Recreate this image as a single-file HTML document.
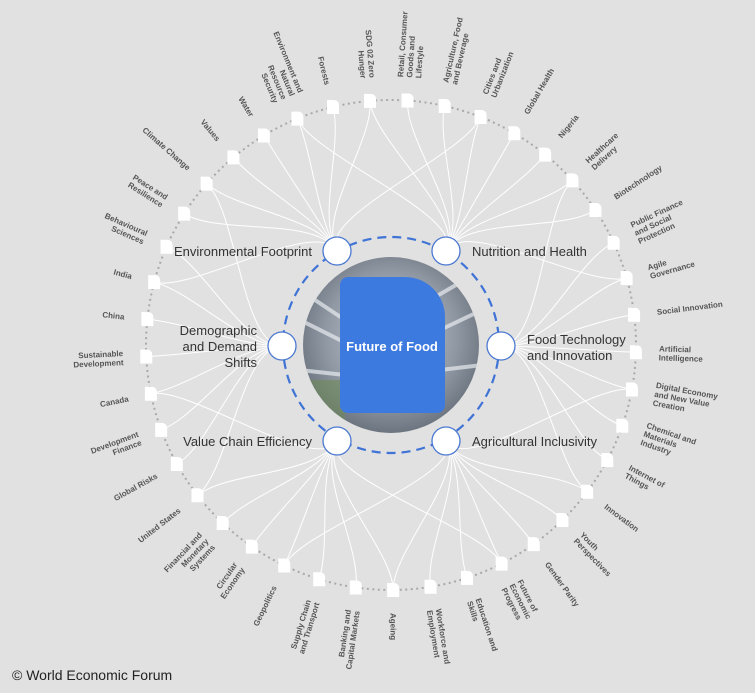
<!DOCTYPE html>
<html><head><meta charset="utf-8"><style>
html,body{margin:0;padding:0;background:#e1e1e1;}
body{width:755px;height:693px;overflow:hidden;position:relative;font-family:"Liberation Sans",sans-serif;}
#foot{position:absolute;left:12px;top:667px;font-size:14px;color:#222;}
</style></head><body>
<svg id="s" width="755" height="693" xmlns="http://www.w3.org/2000/svg" style="position:absolute;left:0;top:0">
<defs>
<radialGradient id="g" cx="50%" cy="45%" r="60%">
<stop offset="0" stop-color="#c8ced6"/><stop offset="0.6" stop-color="#8f98a3"/><stop offset="1" stop-color="#5d6670"/>
</radialGradient>
<clipPath id="cc"><circle cx="391" cy="345" r="88"/></clipPath>
</defs>
<circle cx="391" cy="345" r="245" fill="none" stroke="#a9a9a9" stroke-width="2" stroke-dasharray="2 3.5"/>
<g id="lines" fill="none" stroke="#fff" stroke-width="1"></g>
<circle cx="391" cy="345" r="108" fill="none" stroke="#3f73d6" stroke-width="2.2" stroke-dasharray="9 6"/>
<g clip-path="url(#cc)">
<rect x="300" y="255" width="182" height="182" fill="url(#g)"/>
<g stroke="#e8ecf0" stroke-width="4" opacity="0.7">
<line x1="300" y1="290" x2="360" y2="330"/><line x1="300" y1="320" x2="350" y2="345"/>
<line x1="430" y1="300" x2="482" y2="270"/><line x1="440" y1="330" x2="482" y2="310"/>
<line x1="440" y1="370" x2="482" y2="365"/><line x1="300" y1="370" x2="345" y2="375"/>
</g>
<rect x="300" y="380" width="45" height="40" fill="#6f8a5a" opacity="0.6"/>
</g>
<path d="M348,277 H405 A40,40 0 0 1 445,317 V405 A8,8 0 0 1 437,413 H348 A8,8 0 0 1 340,405 V285 A8,8 0 0 1 348,277 Z" fill="#3d7ae0"/>
<text x="392" y="351" font-size="13" font-weight="bold" fill="#fff" text-anchor="middle" font-family="Liberation Sans, sans-serif">Future of Food</text>
<g id="nodes"></g>
<g id="labels" font-family="Liberation Sans, sans-serif" font-size="8" font-weight="bold" fill="#555"></g>
<g font-family="Liberation Sans, sans-serif" font-size="13" fill="#333">
<text x="312" y="256" text-anchor="end">Environmental Footprint</text>
<text x="472" y="256">Nutrition and Health</text>
<text x="527" y="344">Food Technology</text>
<text x="527" y="360">and Innovation</text>
<text x="472" y="446">Agricultural Inclusivity</text>
<text x="312" y="446" text-anchor="end">Value Chain Efficiency</text>
<text x="257" y="335" text-anchor="end">Demographic</text>
<text x="257" y="351" text-anchor="end">and Demand</text>
<text x="257" y="367" text-anchor="end">Shifts</text>
</g>
<g fill="#fff" stroke="#4a78d0" stroke-width="1.3">
<circle cx="337" cy="251" r="14"/><circle cx="446" cy="251" r="14"/><circle cx="501" cy="346" r="14"/>
<circle cx="446" cy="441" r="14"/><circle cx="337" cy="441" r="14"/><circle cx="282" cy="346" r="14"/>
</g>
</svg>
<div id="foot">© World Economic Forum</div>
<script>
var L=[["SDG 02 Zero","Hunger"],["Retail, Consumer","Goods and","Lifestyle"],["Agriculture, Food","and Beverage"],["Cities and","Urbanization"],["Global Health"],["Nigeria"],["Healthcare","Delivery"],["Biotechnology"],["Public Finance","and Social","Protection"],["Agile","Governance"],["Social Innovation"],["Artificial","Intelligence"],["Digital Economy","and New Value","Creation"],["Chemical and","Materials","Industry"],["Internet of","Things"],["Innovation"],["Youth","Perspectives"],["Gender Parity"],["Future of","Economic","Progress"],["Education and","Skills"],["Workforce and","Employment"],["Ageing"],["Banking and","Capital Markets"],["Supply Chain","and Transport"],["Geopolitics"],["Circular","Economy"],["Financial and","Monetary","Systems"],["United States"],["Global Risks"],["Development","Finance"],["Canada"],["Sustainable","Development"],["China"],["India"],["Behavioural","Sciences"],["Peace and","Resilience"],["Climate Change"],["Values"],["Water"],["Environment and","Natural","Resource","Security"],["Forests"]];
var NS="http://www.w3.org/2000/svg",cx=391,cy=345,R=245;
var inner=[[-120,337,251],[-60,446,251],[0,501,346],[60,446,441],[120,337,441],[180,282,346]];
function el(t,a,p){var e=document.createElementNS(NS,t);for(var k in a)e.setAttribute(k,a[k]);p.appendChild(e);return e;}
var gl=document.getElementById("lines"),gn=document.getElementById("nodes"),gt=document.getElementById("labels");
function nd(a,b){var d=Math.abs(a-b)%360;return d>180?360-d:d;}
for(var i=0;i<L.length;i++){
 var ang=-94.9+i*360/41,r=ang*Math.PI/180,c=Math.cos(r),s=Math.sin(r);
 var x=cx+R*c,y=cy+R*s;
 var sorted=inner.slice().sort(function(p,q){return nd(ang,p[0])-nd(ang,q[0]);});
 var tg=[sorted[0]];if(i%3==0)tg.push(sorted[1]);
 tg.forEach(function(n){var ir=n[0]*Math.PI/180;
  el("path",{d:"M"+n[1]+","+n[2]+" C"+(n[1]+40*Math.cos(ir))+","+(n[2]+40*Math.sin(ir))+" "+(x-40*c)+","+(y-40*s)+" "+x+","+y},gl);});
 el("path",{d:"M"+(x-6)+","+(y-7)+" h7 a5,5 0 0 1 5,5 v9 h-12 z",fill:"#fff"},gn);
 var lr=268,lx=cx+lr*c,ly=cy+lr*s,lines=L[i],right=(ang>-90&&ang<90)||ang>270,rot=right?ang:ang+180;
 var t=el("text",{transform:"translate("+lx.toFixed(1)+","+ly.toFixed(1)+") rotate("+rot.toFixed(1)+")","text-anchor":right?"start":"end"},gt);
 var n=lines.length;
 for(var j=0;j<n;j++){var sp=el("tspan",{x:0,y:(j-(n-1)/2)*9+3},t);sp.textContent=lines[j];}
}
</script>
</body></html>
